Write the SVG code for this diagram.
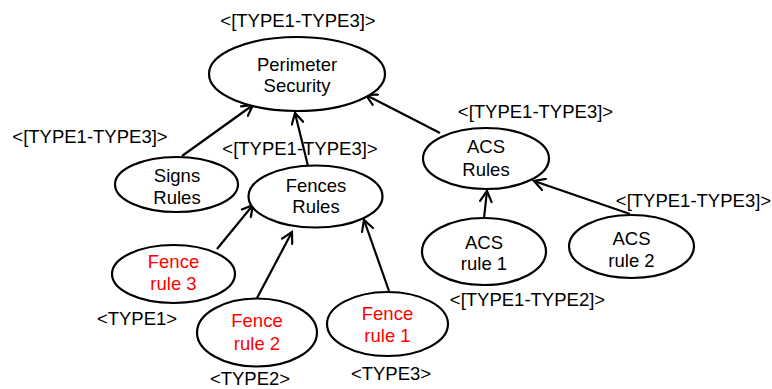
<svg xmlns="http://www.w3.org/2000/svg" width="772" height="389" viewBox="0 0 772 389">
  <style>
    .node { fill: #ffffff; stroke: #000000; stroke-width: 2.2; }
    .t { font-family: "Liberation Sans", Arial, Helvetica, sans-serif; font-size: 18.5px; fill: #000000; text-anchor: middle; }
    .red { fill: #ff0000; }
    .edge { fill: none; stroke: #000000; stroke-width: 2.2; marker-end: url(#open); }
  </style>
  <defs>
    <marker id="open" markerUnits="userSpaceOnUse" markerWidth="14" markerHeight="14" viewBox="0 0 14 14" refX="12" refY="7" orient="auto">
      <path d="M1.5,1.2 L12,7 L1.5,12.8" fill="none" stroke="#000000" stroke-width="2.2" stroke-linecap="round" stroke-linejoin="miter"/>
    </marker>
  </defs>

  <!-- connectors: child to parent -->
  <g id="connectors">
    <line class="edge" x1="182" y1="156" x2="253" y2="105"/>
    <line class="edge" x1="308" y1="166" x2="295" y2="113"/>
    <line class="edge" x1="440" y1="133" x2="366" y2="95"/>
    <line class="edge" x1="217" y1="249" x2="253" y2="205"/>
    <line class="edge" x1="257" y1="298" x2="292" y2="232"/>
    <line class="edge" x1="389" y1="291" x2="364" y2="220"/>
    <line class="edge" x1="484" y1="218" x2="487" y2="191"/>
    <line class="edge" x1="630" y1="214" x2="534" y2="181"/>
  </g>

  <g id="perimeter-security">
    <ellipse class="node" cx="297" cy="74" rx="88" ry="37"/>
    <text class="t" x="297" y="71">Perimeter</text>
    <text class="t" x="297" y="92">Security</text>
    <text class="t" x="298" y="27">&lt;[TYPE1-TYPE3]&gt;</text>
  </g>

  <g id="signs-rules">
    <ellipse class="node" cx="176.5" cy="184.5" rx="61.5" ry="27.5"/>
    <text class="t" x="177" y="182">Signs</text>
    <text class="t" x="177" y="204">Rules</text>
    <text class="t" x="90" y="143">&lt;[TYPE1-TYPE3]&gt;</text>
  </g>

  <g id="fences-rules">
    <ellipse class="node" cx="315.5" cy="196.5" rx="67" ry="31"/>
    <text class="t" x="316" y="192">Fences</text>
    <text class="t" x="316" y="213">Rules</text>
    <text class="t" x="300" y="155">&lt;[TYPE1-TYPE3]&gt;</text>
  </g>

  <g id="acs-rules">
    <ellipse class="node" cx="486" cy="158.5" rx="63" ry="30.5"/>
    <text class="t" x="486" y="153">ACS</text>
    <text class="t" x="486" y="176">Rules</text>
    <text class="t" x="535.5" y="118">&lt;[TYPE1-TYPE3]&gt;</text>
  </g>

  <g id="fence-rule-3">
    <ellipse class="node" cx="173.5" cy="274" rx="61.5" ry="29"/>
    <text class="t red" x="173.5" y="268">Fence</text>
    <text class="t red" x="173.5" y="290">rule 3</text>
    <text class="t" x="137" y="325">&lt;TYPE1&gt;</text>
  </g>

  <g id="fence-rule-2">
    <ellipse class="node" cx="257" cy="332.5" rx="60" ry="34"/>
    <text class="t red" x="257" y="327">Fence</text>
    <text class="t red" x="257" y="350">rule 2</text>
    <text class="t" x="250" y="385">&lt;TYPE2&gt;</text>
  </g>

  <g id="fence-rule-1">
    <ellipse class="node" cx="387.5" cy="324" rx="60.5" ry="32"/>
    <text class="t red" x="387.5" y="320">Fence</text>
    <text class="t red" x="387.5" y="342">rule 1</text>
    <text class="t" x="391" y="380">&lt;TYPE3&gt;</text>
  </g>

  <g id="acs-rule-1">
    <ellipse class="node" cx="484" cy="251.5" rx="62" ry="33.5"/>
    <text class="t" x="484" y="249">ACS</text>
    <text class="t" x="484" y="270">rule 1</text>
    <text class="t" x="527.5" y="306">&lt;[TYPE1-TYPE2]&gt;</text>
  </g>

  <g id="acs-rule-2">
    <ellipse class="node" cx="631.5" cy="246.5" rx="62.5" ry="31.5"/>
    <text class="t" x="631.5" y="245">ACS</text>
    <text class="t" x="631.5" y="267">rule 2</text>
    <text class="t" x="693.5" y="207">&lt;[TYPE1-TYPE3]&gt;</text>
  </g>
</svg>
